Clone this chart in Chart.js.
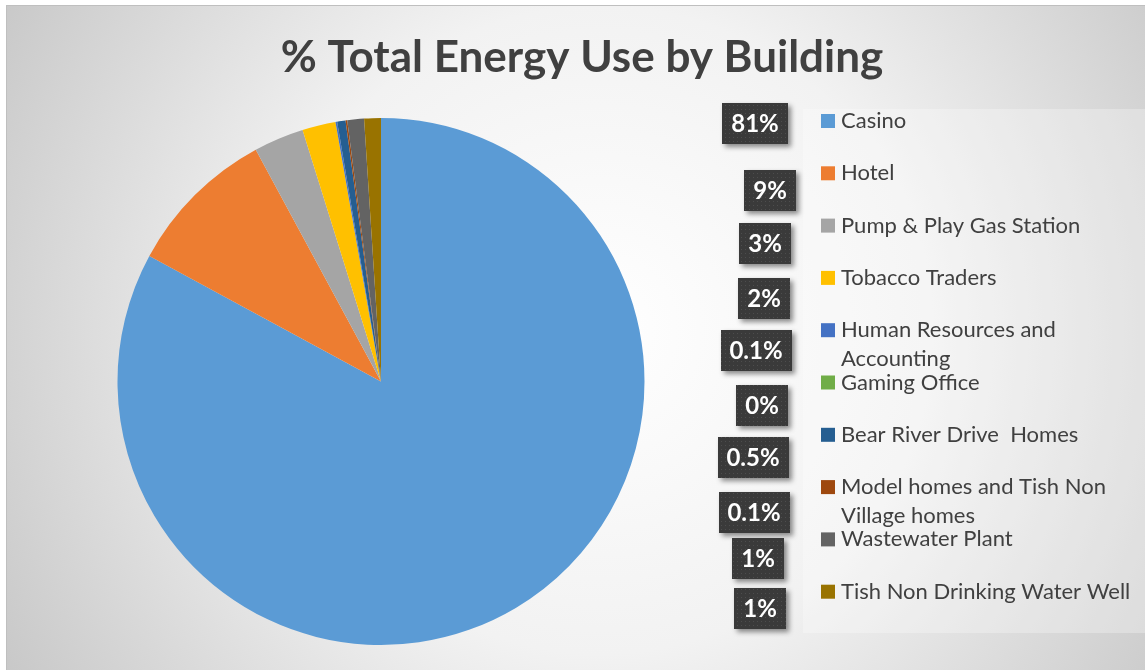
<!DOCTYPE html>
<html>
<head>
<meta charset="utf-8">
<title>% Total Energy Use by Building</title>
<script src="https://cdn.jsdelivr.net/npm/chart.js@4"></script>
<style>
  html, body { margin: 0; padding: 0; background: #ffffff; }
  canvas { display: block; }
</style>
</head>
<body>
<canvas id="energyChart" width="1145" height="670"></canvas>
<script>
// Buildings, in slice order (clockwise from 12 o'clock)
const buildings = [
  "Casino",
  "Hotel",
  "Pump & Play Gas Station",
  "Tobacco Traders",
  ["Human Resources and", "Accounting"],
  "Gaming Office",
  "Bear River Drive  Homes",
  ["Model homes and Tish Non", "Village homes"],
  "Wastewater Plant",
  "Tish Non Drinking Water Well",
];

// Share of total energy use, percent
const energyShare = [81, 9, 3, 2, 0.1, 0, 0.5, 0.1, 1, 1];

const sliceColors = [
  "#5B9BD5",
  "#ED7D31",
  "#A5A5A5",
  "#FFC000",
  "#4472C4",
  "#70AD47",
  "#255E91",
  "#9E480E",
  "#636363",
  "#997300",
];

const shareLabels = energyShare.map((v) => v + "%");

// where the dragged-out value callouts sit (centre x, centre y)
const calloutX = [755, 770, 765, 764, 756, 762, 753, 754, 758, 760];
const calloutY = [123, 190, 243, 298, 350, 405, 457, 512, 558, 608];

const FONT = "Lato, 'Open Sans', sans-serif";
const TEXT_COLOR = "#404040";

function dotPattern(ctx) {
  const c = document.createElement("canvas");
  c.width = 4;
  c.height = 4;
  const p = c.getContext("2d");
  p.fillStyle = "#3a3a3a";
  p.fillRect(0, 0, 4, 4);
  p.fillStyle = "#4d4d4d";
  p.fillRect(1, 1, 1, 1);
  return ctx.createPattern(c, "repeat");
}

const chartDecor = {
  id: "chartDecor",
  beforeDraw(chart) {
    const ctx = chart.ctx;
    const w = chart.width;
    const h = chart.height;
    ctx.save();
    ctx.fillStyle = "#ffffff";
    ctx.fillRect(0, 0, w, h);
    const g = ctx.createRadialGradient(600, 330, 0, 600, 330, 720);
    g.addColorStop(0, "#ffffff");
    g.addColorStop(0.45, "#f2f2f2");
    g.addColorStop(1, "#c4c4c4");
    ctx.fillStyle = g;
    ctx.fillRect(6, 5, w - 6, h - 5);
    ctx.strokeStyle = "#bfbfbf";
    ctx.lineWidth = 1;
    ctx.strokeRect(6.5, 5.5, w - 6, h - 5);
    // legend box
    ctx.fillStyle = "rgba(255,255,255,0.28)";
    ctx.fillRect(803, 109, w - 803, 524);
    ctx.restore();
  },
  afterDraw(chart) {
    const ctx = chart.ctx;
    const ds = chart.data.datasets[0];
    ctx.save();

    // title
    ctx.fillStyle = TEXT_COLOR;
    ctx.font = "bold 44px " + FONT;
    ctx.textAlign = "center";
    ctx.textBaseline = "middle";
    ctx.fillText("% Total Energy Use by Building", 582, 58);

    // legend
    ctx.font = "22px " + FONT;
    ctx.textAlign = "left";
    chart.data.labels.forEach((label, i) => {
      const y = 121 + i * 52.3;
      ctx.fillStyle = ds.backgroundColor[i];
      ctx.fillRect(821, y - 7, 14, 14);
      ctx.fillStyle = TEXT_COLOR;
      const lines = Array.isArray(label) ? label : [label];
      lines.forEach((ln, k) => ctx.fillText(ln, 841, y + k * 29));
    });

    // value callouts
    const pattern = dotPattern(ctx);
    ctx.font = "bold 24px " + FONT;
    ctx.textAlign = "center";
    shareLabels.forEach((txt, i) => {
      const tw = ctx.measureText(txt).width;
      const bw = Math.round(tw + 18);
      const bh = 41;
      const x = Math.round(calloutX[i] - bw / 2);
      const y = Math.round(calloutY[i] - bh / 2);
      ctx.save();
      ctx.shadowColor = "rgba(0,0,0,0.45)";
      ctx.shadowBlur = 5;
      ctx.shadowOffsetX = 3;
      ctx.shadowOffsetY = 3;
      ctx.fillStyle = "#3a3a3a";
      ctx.fillRect(x, y, bw, bh);
      ctx.restore();
      ctx.fillStyle = pattern;
      ctx.fillRect(x, y, bw, bh);
      ctx.fillStyle = "#ffffff";
      ctx.fillText(txt, calloutX[i], calloutY[i] + 1);
    });
    ctx.restore();
  },
};

new Chart(document.getElementById("energyChart"), {
  type: "pie",
  data: {
    labels: buildings,
    datasets: [
      {
        data: energyShare,
        backgroundColor: sliceColors,
        borderWidth: 0,
      },
    ],
  },
  options: {
    responsive: false,
    animation: false,
    devicePixelRatio: 1,
    layout: {
      padding: { left: 117, right: 500, top: 118, bottom: 25 },
    },
    plugins: {
      legend: { display: false },
      tooltip: { enabled: false },
      title: { display: false },
    },
  },
  plugins: [chartDecor],
});
</script>
</body>
</html>
